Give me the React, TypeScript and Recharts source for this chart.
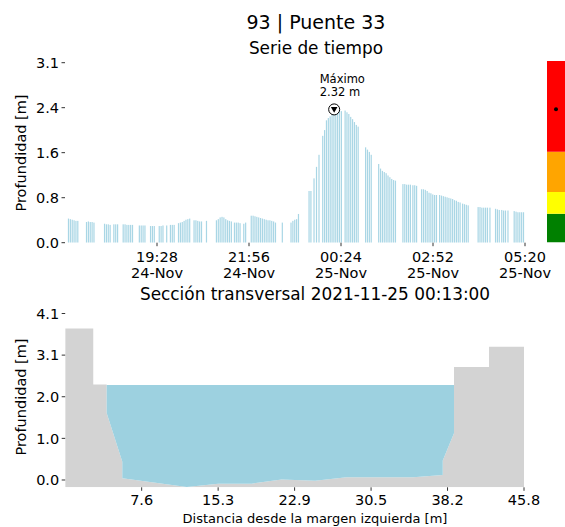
import { BarChart, Bar, XAxis, YAxis, ReferenceDot, AreaChart, Area } from "recharts"

// depth samples: minutes after 24-Nov 17:00, and depth in m
const sampleMinutes = [
  6, 9, 12, 15, 18, 21,
  35, 38, 41, 44, 47,
  64, 67, 70, 73, 79, 82, 85,
  94, 97, 100, 103, 106, 109,
  120, 123, 126, 129, 138, 141, 144, 152, 155, 158, 164, 170, 173, 176,
  183, 186, 189, 192, 195, 198, 201,
  208, 211, 214, 217, 220, 228,
  244, 247, 250, 253, 256, 259, 262, 265, 268, 273, 276, 279, 282, 288, 291,
  300, 303, 306, 309, 312, 315, 318, 321, 324, 327, 330, 333, 336, 339, 350,
  364, 367, 370, 373, 376,
  393, 396, 401, 405, 409, 415, 418, 421, 424, 427, 430, 433, 436, 439, 442, 445, 451, 454, 457, 460, 463, 466, 469, 472,
  484, 487, 490, 493,
  505, 508, 511, 514, 517, 520, 523, 526, 529, 532,
  544, 547, 550, 553, 556, 560, 563, 566,
  574, 577, 580, 583, 586, 589, 592, 595, 598, 603, 606, 609, 612, 615, 618, 621, 624, 627, 630, 633, 636, 640, 643, 646, 649,
  665, 668, 671, 674, 677, 680, 684,
  693, 696, 699, 703, 706, 709, 713,
  723, 726, 729, 732, 735, 738,
]
const depths = [
  0.42, 0.41, 0.4, 0.39, 0.38, 0.38,
  0.36, 0.37, 0.36, 0.36, 0.35,
  0.33, 0.32, 0.32, 0.31, 0.32, 0.32, 0.32,
  0.32, 0.32, 0.31, 0.31, 0.31, 0.31,
  0.3, 0.3, 0.3, 0.3, 0.29, 0.29, 0.29, 0.29, 0.29, 0.3, 0.3, 0.31, 0.31, 0.31,
  0.34, 0.35, 0.36, 0.38, 0.4, 0.41, 0.42,
  0.39, 0.39, 0.38, 0.37, 0.37, 0.38,
  0.39, 0.41, 0.44, 0.45, 0.44, 0.41, 0.39, 0.38, 0.37, 0.35, 0.35, 0.35, 0.34, 0.33, 0.35,
  0.47, 0.47, 0.46, 0.45, 0.44, 0.43, 0.42, 0.41, 0.4, 0.39, 0.39, 0.38, 0.37, 0.35, 0.35,
  0.35, 0.38, 0.4, 0.41, 0.5,
  0.9, 0.9, 1.12, 1.32, 1.53, 1.86, 1.96, 2.13, 2.17, 2.2, 2.26, 2.32, 2.29, 2.3, 2.31, 2.29, 2.3, 2.27, 2.24, 2.19, 2.15, 2.1, 2.05, 2.02,
  1.66, 1.62, 1.58, 1.53,
  1.37, 1.29, 1.25, 1.23, 1.21, 1.17, 1.14, 1.11, 1.09, 1.08,
  1.02, 1.02, 1.01, 1.01, 1.01, 1.0, 1.0, 0.99,
  0.93, 0.93, 0.92, 0.9, 0.87, 0.86, 0.84, 0.83, 0.83, 0.83, 0.82, 0.81, 0.8, 0.79, 0.78, 0.77, 0.76, 0.74, 0.73, 0.71, 0.7, 0.68, 0.67, 0.66, 0.65,
  0.62, 0.62, 0.61, 0.61, 0.61, 0.61, 0.61,
  0.59, 0.58, 0.57, 0.57, 0.56, 0.56, 0.56,
  0.55, 0.54, 0.53, 0.53, 0.53, 0.53,
]

const timeTicks = [148, 296, 444, 592, 740]
const timeTickHours = ["19:28", "21:56", "00:24", "02:52", "05:20"]
const timeTickDays = ["24-Nov", "24-Nov", "25-Nov", "25-Nov", "25-Nov"]

const depthTicks = [0, 0.783, 1.567, 2.35, 3.133]
const depthTickLabels = ["0.0", "0.8", "1.6", "2.4", "3.1"]

const peakMinute = 433
const peakDepth = 2.32

// alert levels shown in the colour bar (upper limit of each band)
const levelKeys = ["verde", "amarillo", "naranja", "rojo"]
const levelTops = [0.5, 0.88, 1.58, 3.16]
const levelColors = ["#008000", "#ffff00", "#ffa500", "#ff0000"]

// cross section at 00:13
const sectionX = [0, 2.8, 2.8, 4.14, 4.14, 5.7, 5.7, 12.13, 15.28, 18.62, 21.61, 24.94, 28.1, 34.75, 37.69, 37.69, 38.81, 38.81, 42.31, 42.31, 45.8]
const sectionBed = [3.73, 3.73, 2.35, 2.35, 1.65, 0.45, 0.04, -0.17, -0.09, -0.09, 0.01, -0.02, 0.07, 0.07, 0.12, 0.48, 1.15, 2.78, 2.78, 3.28, 3.28]
const waterLevel = 2.34
const sectionXTicks = [7.633, 15.267, 22.9, 30.533, 38.167, 45.8]
const sectionXLabels = ["7.6", "15.3", "22.9", "30.5", "38.2", "45.8"]
const sectionYTicks = [0, 1.025, 2.05, 3.075, 4.1]
const sectionYLabels = ["0.0", "1.0", "2.0", "3.1", "4.1"]

const series = sampleMinutes.map((t, i) => ({ t, depth: depths[i] }))

const levelRow: { [key: string]: any } = { name: "nivel" }
levelKeys.forEach((k, i) => {
  levelRow[k] = levelTops[i] - (i > 0 ? levelTops[i - 1] : 0)
})

const section = sectionX.map((x, i) => ({
  x,
  bed: sectionBed[i],
  water: sectionBed[i] < waterLevel ? [sectionBed[i], waterLevel] : null,
}))

const tickStyle = { fill: "#000", fontSize: 14.5 }
const tickLine = { stroke: "#333", strokeWidth: 1 }

function TimeTick({ x, y, payload }: any) {
  const i = timeTicks.indexOf(payload.value)
  return (
    <text x={x} y={y} textAnchor="middle" fontSize={14.5} fill="#000">
      <tspan x={x} dy={13.8}>{timeTickHours[i]}</tspan>
      <tspan x={x} dy={16}>{timeTickDays[i]}</tspan>
    </text>
  )
}

// thin bars, fixed width whatever the sample spacing is
function ThinBar({ x, y, width, height, fill }: any) {
  if (height == null || height <= 0) return null
  const cx = x + width / 2
  return <rect x={cx - 0.6} y={y} width={1.2} height={height} fill={fill} />
}

function PeakMarker({ cx, cy }: any) {
  return (
    <g>
      <circle cx={cx} cy={cy} r={5.5} fill="#fff" stroke="#000" strokeWidth={1} />
      <path d={`M${cx - 3.3},${cy - 2.3} L${cx + 3.3},${cy - 2.3} L${cx},${cy + 3.4} Z`} fill="#000" />
      <text x={cx - 14.5} y={cy - 26.5} fontSize={11.5} fill="#000">Máximo</text>
      <text x={cx - 14.5} y={cy - 13.5} fontSize={11.5} fill="#000">{peakDepth.toFixed(2)} m</text>
    </g>
  )
}

export default function App() {
  return (
    <div style={{ position: "absolute", left: 0, top: 0, width: 565, height: 527, background: "#fff", fontFamily: "DejaVu Sans" }}>
      <div style={{ position: "absolute", left: 0, top: 0 }}>
        <BarChart width={565} height={290} data={series} margin={{ top: 62.7, right: 40, bottom: 7.3, left: 0 }}>
          <XAxis
            dataKey="t"
            type="number"
            domain={[0, 740]}
            allowDataOverflow
            ticks={timeTicks}
            interval={0}
            tick={<TimeTick />}
            tickSize={3.5}
            tickLine={tickLine}
            axisLine={false}
            height={40}
          />
          <YAxis
            domain={[0, 3.133]}
            allowDataOverflow
            ticks={depthTicks}
            interval={0}
            tickFormatter={(v: number, i: number) => depthTickLabels[i]}
            tick={tickStyle}
            tickSize={3.5}
            tickMargin={2.5}
            tickLine={tickLine}
            axisLine={false}
            width={65}
          />
          <Bar dataKey="depth" fill="#a9d6e5" shape={<ThinBar />} isAnimationActive={false} />
          <ReferenceDot x={peakMinute} y={peakDepth} shape={PeakMarker} />
        </BarChart>
      </div>

      <div style={{ position: "absolute", left: 547, top: 0 }}>
        <BarChart width={18} height={290} data={[levelRow]} margin={{ top: 61, right: 0, bottom: 47.5, left: 0 }} barCategoryGap={0}>
          <XAxis dataKey="name" hide />
          <YAxis domain={[0, 3.16]} allowDataOverflow hide />
          {levelKeys.map((k, i) => (
            <Bar key={k} dataKey={k} stackId="nivel" fill={levelColors[i]} isAnimationActive={false} />
          ))}
          <ReferenceDot x="nivel" y={peakDepth} r={2} fill="#000" stroke="none" />
        </BarChart>
      </div>

      <div style={{ position: "absolute", left: 0, top: 290 }}>
        <AreaChart width={565} height={237} data={section} margin={{ top: 23.5, right: 41, bottom: 3.7, left: 0 }}>
          <XAxis
            dataKey="x"
            type="number"
            domain={[0, 45.8]}
            allowDataOverflow
            ticks={sectionXTicks}
            interval={0}
            tickFormatter={(v: number, i: number) => sectionXLabels[i]}
            tick={tickStyle}
            tickSize={3.5}
            tickMargin={4.2}
            tickLine={tickLine}
            axisLine={false}
            height={36}
          />
          <YAxis
            domain={[-0.18, 4.1]}
            allowDataOverflow
            ticks={sectionYTicks}
            interval={0}
            tickFormatter={(v: number, i: number) => sectionYLabels[i]}
            tick={tickStyle}
            tickSize={3.5}
            tickMargin={2.5}
            tickLine={tickLine}
            axisLine={false}
            width={65.2}
          />
          <Area dataKey="bed" type="linear" stroke="none" fill="#d3d3d3" fillOpacity={1} baseValue="dataMin" isAnimationActive={false} />
          <Area dataKey="water" type="linear" stroke="none" fill="#9dd1e0" fillOpacity={1} isAnimationActive={false} />
        </AreaChart>
      </div>

      <svg width={565} height={527} style={{ position: "absolute", left: 0, top: 0, pointerEvents: "none" }}>
        <text x={316} y={29} textAnchor="middle" fontSize={19} fill="#000">93 | Puente 33</text>
        <text x={316} y={54} textAnchor="middle" fontSize={16.9} fill="#000">Serie de tiempo</text>
        <text x={315} y={299.5} textAnchor="middle" fontSize={16.9} fill="#000">Sección transversal 2021-11-25 00:13:00</text>
        <text x={315} y={523} textAnchor="middle" fontSize={13} fill="#000">Distancia desde la margen izquierda [m]</text>
        <text transform="translate(26,153) rotate(-90)" textAnchor="middle" fontSize={14.5} fill="#000">Profundidad [m]</text>
        <text transform="translate(26,397) rotate(-90)" textAnchor="middle" fontSize={14.5} fill="#000">Profundidad [m]</text>
      </svg>
    </div>
  )
}
